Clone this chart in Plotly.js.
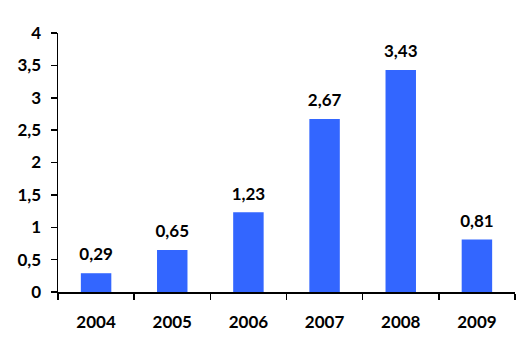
<!DOCTYPE html>
<html><head><meta charset="utf-8">
<script src="https://cdn.plot.ly/plotly-3.0.1.min.js"></script>
<style>html,body{margin:0;padding:0;background:#fff}#c{width:531px;height:356px}</style>
</head><body><div id="c"></div>
<script>
const years = ["2004","2005","2006","2007","2008","2009"];
const values = [0.29, 0.65, 1.23, 2.67, 3.43, 0.81];
const labels = ["0,29","0,65","1,23","2,67","3,43","0,81"];

const FONT = "Lato, 'Open Sans', sans-serif";
const bars = {
  type: "bar", x: years, y: values, width: 0.4,
  marker: {color: "#3366FF"}, hoverinfo: "none"
};
const texts = {
  type: "scatter", mode: "markers+text", x: years, y: values, text: labels,
  marker: {size: 12, color: "rgba(0,0,0,0)"},
  textposition: "top center", cliponaxis: false, hoverinfo: "none",
  textfont: {family: FONT, size: 17, color: "#000", weight: "bold"}
};
const layout = {
  width: 531, height: 356,
  margin: {l: 58, r: 16, t: 33, b: 64},
  paper_bgcolor: "#fff", plot_bgcolor: "#fff",
  separators: ",.",
  showlegend: false,
  font: {family: FONT, size: 17, color: "#000"},
  xaxis: {
    type: "category", range: [-0.5, 5.5], showgrid: false, showline: true,
    linecolor: "#000", linewidth: 1.5, ticks: "outside", tickson: "boundaries",
    ticklen: 6, tickcolor: "#000", tickwidth: 1.5, ticklabelstandoff: 14,
    tickfont: {family: FONT, size: 17, color: "#000", weight: "bold"}
  },
  yaxis: {
    range: [0, 4], dtick: 0.5, showgrid: false, zeroline: false, showline: true,
    linecolor: "#000", linewidth: 1.5, ticks: "outside", ticklen: 6,
    tickcolor: "#000", tickwidth: 1.5, ticklabelstandoff: 6,
    tickfont: {family: FONT, size: 17, color: "#000", weight: "bold"}
  }
};
Plotly.newPlot("c", [bars, texts], layout, {staticPlot: true, displayModeBar: false});
</script></body></html>
